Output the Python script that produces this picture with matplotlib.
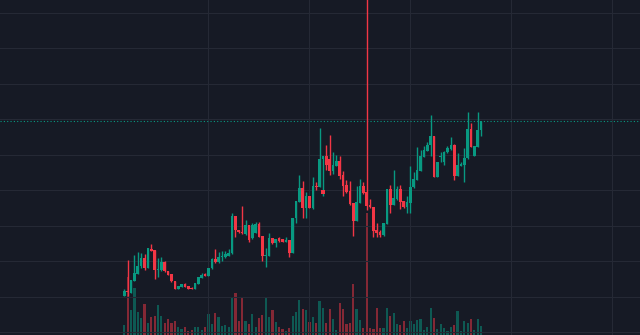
import matplotlib
matplotlib.use("Agg")
import matplotlib.pyplot as plt
import numpy as np

# candle data (price units), one entry per bar
opens = [104.3, 109.5, 107.5, 119.5, 126.5, 134, 142.3, 132.3, 151.5, 150,
         129.7, 130, 138.3, 129, 125.7, 119, 111.5, 113.3, 116, 114,
         112.3, 111.3, 116, 122.5, 125.7, 124.3, 131.7, 141, 138, 142.7,
         142.7, 144.5, 146.7, 184, 170, 168.3, 166, 175, 161.7, 167.3,
         176, 164, 144, 144.3, 162.3, 156.7, 161.7, 161.3, 158.3, 160,
         147.3, 181.7, 198.3, 211.7, 192.3, 204, 192.3, 214, 213.3, 240.7,
         244, 240.7, 229.3, 234.3, 239, 225, 215, 209, 196.7, 179.3,
         197.3, 214, 208.3, 195, 192.7, 170, 168.3, 165, 176, 210.7,
         195.3, 200.7, 210.7, 198.7, 192.7, 197.3, 212.7, 220, 229.3, 243.3,
         249.3, 255, 264, 223.3, 242.7, 237.7, 247.7, 251, 255, 224.3,
         234.3, 235, 241.7, 271, 244.3, 253.3, 270]
highs = [111, 140, 120, 145, 148.3, 147, 145.7, 152, 155.7, 150,
         142, 143, 139, 129.5, 126, 119, 114.5, 116, 117, 114,
         113.3, 117, 123, 126.7, 127.3, 132.5, 141.7, 151, 148.3, 149,
         149.3, 150.7, 187.3, 184, 170.5, 194, 180, 175.5, 176.7, 178.3,
         178.3, 164.5, 151.7, 166.7, 162.5, 161.5, 163.3, 161.5, 162.7, 160.5,
         182, 199.5, 225, 219, 208.3, 204, 222.7, 218.3, 271.7, 244,
         255, 265, 247.7, 245, 244, 229, 220, 219, 197, 214,
         221, 218.3, 460, 200.7, 193, 176.7, 170, 177, 211, 215,
         230, 214, 215, 199, 204, 234, 228, 253.3, 250, 254.3,
         258.3, 285, 264, 238, 248.3, 249, 254.3, 262.7, 256, 246.7,
         238.3, 251.7, 288.3, 276.7, 254, 288.3, 279.3]
lows = [104, 104, 107, 119, 126, 132, 130, 132, 149, 121.3,
        123, 129.5, 128, 125, 118, 111, 111, 113, 113, 111,
        111, 111, 116, 122, 124, 124, 131.5, 137.3, 137, 139.3,
        142, 144, 146, 163.3, 167, 166, 165.5, 158.3, 161, 167,
        163, 139.3, 132.7, 144, 156, 153.3, 158.3, 158, 158, 143.3,
        147, 177, 198, 182.3, 181.7, 192, 191, 210, 213, 204,
        230, 225, 226, 234, 221, 204, 206.7, 195, 164.3, 179,
        197, 206, 190, 191.7, 162.7, 162.7, 163.3, 164.5, 176, 187.3,
        195, 200, 190.7, 192, 187.3, 187.3, 212, 220, 229, 243,
        249, 244.3, 223, 223, 237.7, 235, 247, 250.5, 220, 224,
        234, 218.3, 241, 253, 244, 253, 264.3]
closes = [109, 108.5, 120, 126.7, 134, 142.3, 132.3, 151.7, 149.5, 129.7,
          130.7, 138.3, 129.5, 125.5, 118.7, 111.5, 114, 115.7, 113.3, 111.3,
          111.3, 116.7, 122.7, 125, 124.3, 132.3, 141, 138.3, 143.3, 144,
          145.7, 147.5, 184, 170, 167.7, 166.7, 175, 160, 175, 176,
          163.3, 144.3, 145, 162.3, 156.7, 161.3, 159.3, 158.3, 160, 147.3,
          181.7, 199.3, 211.7, 192.3, 204, 192.3, 214, 213, 240.7, 244,
          235, 229.3, 235, 239, 224.3, 214.3, 208.3, 196, 179.3, 198.3,
          214, 207.3, 194, 192.7, 169.3, 167.3, 165, 176.7, 210.7, 195.3,
          202, 210.7, 198, 192.7, 198, 213.3, 220.7, 230, 244, 250,
          255, 264, 223.3, 237.7, 244.3, 248.3, 251.7, 255, 224.3, 235,
          236.3, 241.7, 271, 253.3, 254, 270, 279.3]
volumes = [10, 58.3, 25, 47, 22.7, 16.7, 30.7, 11.7, 18.3, 19.3,
           30, 19.3, 11.7, 16, 12.3, 14, 8.3, 6, 8.3, 4,
           5, 8.3, 8.3, 5, 8.3, 21, 11, 21.7, 18.3, 9,
           10, 7.7, 37.3, 41.7, 14.3, 37.3, 14, 11, 21, 8.3,
           16.7, 20, 38.3, 18.3, 25, 13.3, 8.3, 5.7, 4, 6.7,
           19, 23.3, 35, 26, 25, 13.3, 18.3, 12.3, 34, 27.3,
           12.3, 26, 16, 5, 32.3, 26, 11, 12.3, 51, 26,
           15, 6.7, 122.3, 6.7, 5.7, 26.7, 6.7, 6.7, 26.7, 19,
           21.7, 11, 10, 14, 6.7, 14, 10.7, 15, 16.5, 5,
           7.7, 27.3, 17.3, 6, 11, 7.3, 4, 8.3, 10, 24,
           4, 14, 11.7, 16, 5, 16, 9]

# single marker on the chart
marker_idx = 59
marker_price = 208.5

BG = '#161a25'
UP = '#089981'
DOWN = '#f23645'
GRID = '#252935'

o = np.array(opens)
h = np.array(highs)
l = np.array(lows)
c = np.array(closes)
v = np.array(volumes)
x = np.arange(len(o))
up = c >= o
colors = np.where(up, UP, DOWN)

fig = plt.figure(figsize=(6.4, 3.35), dpi=100)
fig.patch.set_facecolor(BG)

ax = fig.add_axes([0, 0, 1, 1])
ax_v = ax.twinx()
ax.set_zorder(2)
ax_v.set_zorder(1)
ax.patch.set_visible(False)
ax_v.set_facecolor(BG)

# volume histogram at the bottom
ax_v.bar(x, v, width=0.65, color=colors, alpha=0.5, linewidth=0)
ax_v.set_ylim(0, 335)

# grid
ax.set_xticks([25, 55, 85, 115, 145])
ax.set_yticks(np.arange(68, 400, 35.5))
ax.grid(True, color=GRID, linewidth=0.8)
ax.set_axisbelow(True)

# candles
ax.vlines(x, l, h, colors=colors, linewidth=1.0, zorder=3)
body_bottom = np.minimum(o, c)
body_height = np.maximum(np.abs(c - o), 1.0)
ax.bar(x, body_height, bottom=body_bottom, width=0.78, color=colors,
       linewidth=0, zorder=4)

# last price line
ax.axhline(closes[-1], color=UP, linestyle=(0, (1, 2)), linewidth=0.8, zorder=2)

ax.scatter([marker_idx], [marker_price], marker='s', s=7, color=DOWN,
           linewidths=0, zorder=5)

ax.set_xlim(-36.94, 153.2)
ax.set_ylim(65, 400)

for a in (ax, ax_v):
    for s in a.spines.values():
        s.set_visible(False)
    a.tick_params(length=0, labelbottom=False, labelleft=False,
                  labelright=False, labeltop=False)
ax_v.set_yticks([])

fig.savefig('out.png', dpi=100, facecolor=BG)
